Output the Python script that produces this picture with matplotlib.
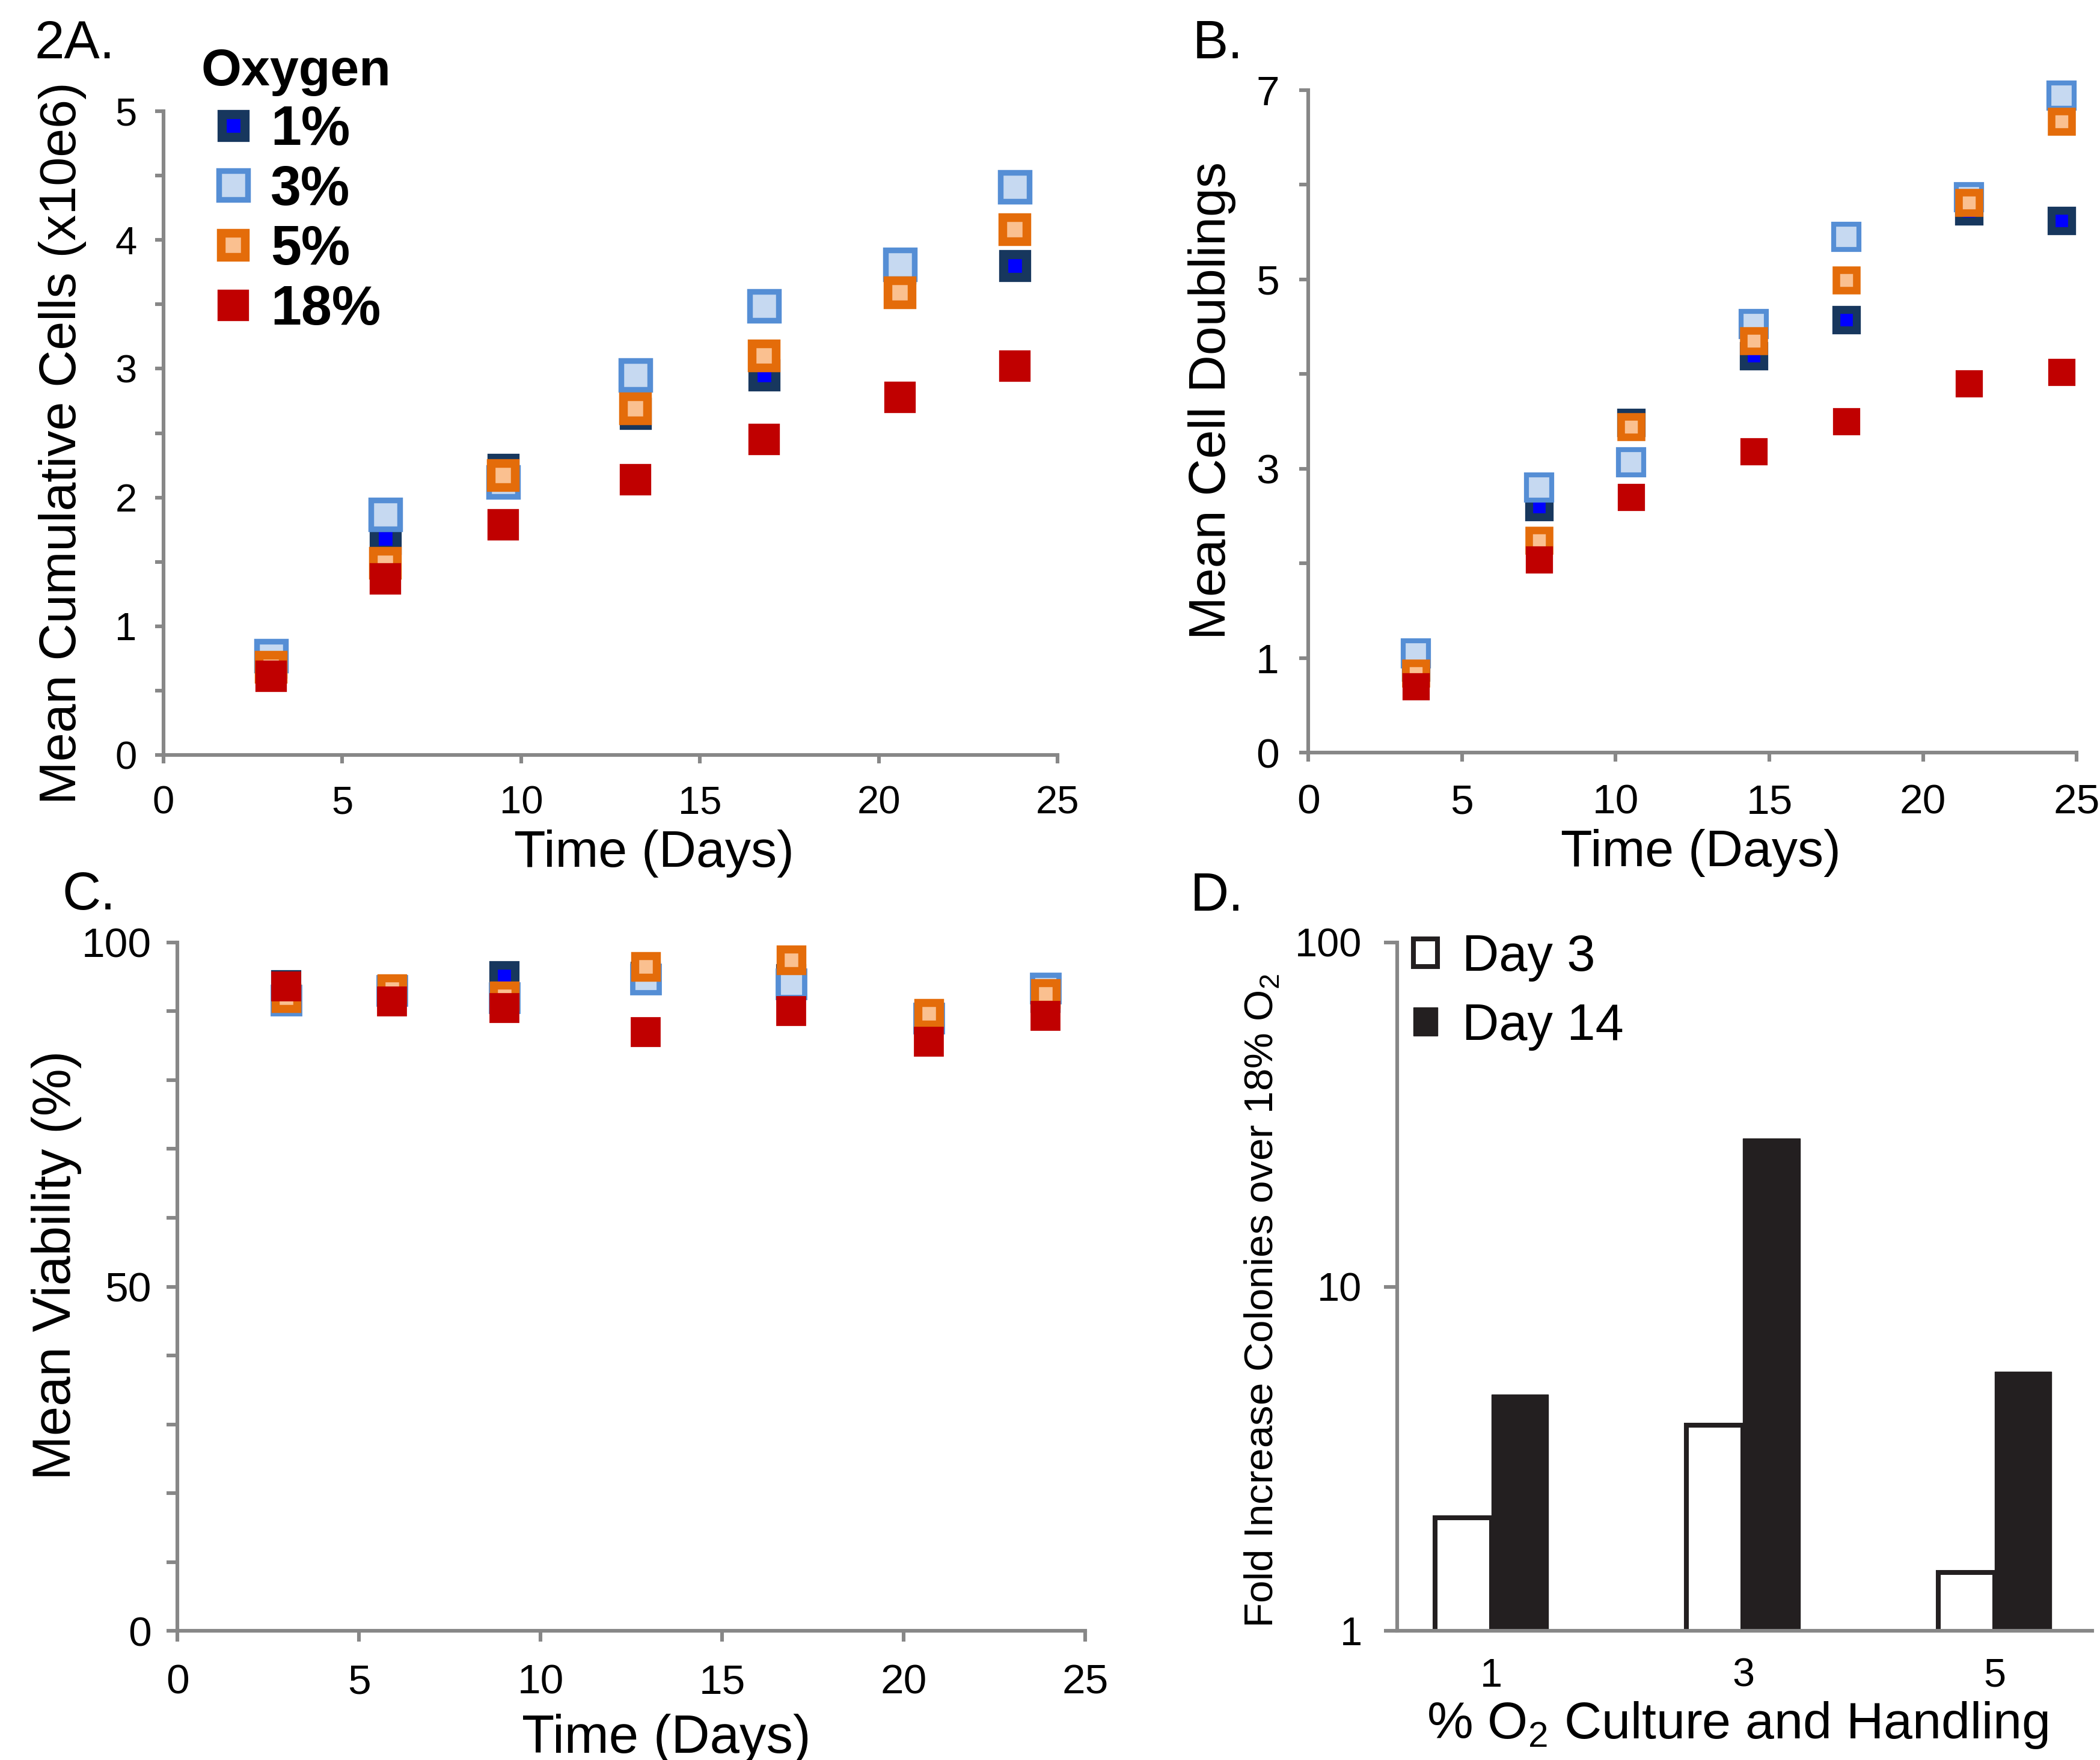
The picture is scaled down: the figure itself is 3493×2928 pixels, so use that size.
import matplotlib
matplotlib.use("Agg")
import matplotlib.pyplot as plt
from matplotlib.ticker import FixedLocator, NullLocator

W, H, DPI = 3493, 2928, 200
NARROW = ['Liberation Sans Narrow', 'Liberation Sans', 'DejaVu Sans']
REG = ['Liberation Sans', 'DejaVu Sans']
GRAY = '#878787'

# --- data ---
oxygen = ['1%', '3%', '5%', '18%']

days_a = [3.0, 6.2, 9.5, 13.2, 16.8, 20.6, 23.8]
cells = {
    '1%': [0.72, 1.68, 2.22, 2.65, 2.95, 3.78, 3.80],
    '3%': [0.77, 1.87, 2.12, 2.95, 3.49, 3.81, 4.41],
    '5%': [0.68, 1.49, 2.17, 2.69, 3.10, 3.59, 4.08],
    '18%': [0.61, 1.37, 1.79, 2.14, 2.45, 2.78, 3.02],
}

days_b = [3.5, 7.5, 10.5, 14.5, 17.5, 21.5, 24.5]
doublings = {
    '1%': [0.90, 2.60, 3.49, 4.19, 4.57, 5.72, 5.62],
    '3%': [1.05, 2.80, 3.07, 4.53, 5.45, 5.87, 6.94],
    '5%': [0.84, 2.24, 3.44, 4.35, 4.99, 5.81, 6.67],
    '18%': [0.70, 2.04, 2.70, 3.18, 3.50, 3.90, 4.02],
}

days_c = [3.0, 5.9, 9.0, 12.9, 16.9, 20.7, 23.9]
viability = {
    '1%': [93.8, 93.0, 95.1, 95.0, 94.7, 89.0, 92.0],
    '3%': [91.6, 93.0, 92.0, 94.7, 94.0, 89.0, 93.4],
    '5%': [92.0, 93.3, 92.2, 96.5, 97.5, 89.7, 92.6],
    '18%': [93.6, 91.4, 90.5, 87.0, 90.0, 85.6, 89.3],
}

o2_levels = ['1', '3', '5']
day3 = [2.13, 3.96, 1.48]
day14 = [4.86, 27.0, 5.65]

# marker styles: edge, fill, size, edge width
styles = {
    '1%': ('#17375E', '#0000FF', 13.9, 5.5),
    '3%': ('#558ED5', '#C6D9F1', 17.1, 3.4),
    '5%': ('#E46C0A', '#FAC090', 14.2, 5.2),
    '18%': ('#C00000', '#C00000', 16.0, 3.0),
}


def fpos(x, y):
    return x / W, 1 - y / H


def style_axes(ax, font, size, tlen, ypad, xpad):
    for s in ['top', 'right']:
        ax.spines[s].set_visible(False)
    for s in ['left', 'bottom']:
        ax.spines[s].set_color(GRAY)
        ax.spines[s].set_linewidth(2.2)
    ax.tick_params(which='both', color=GRAY, width=2.2, length=tlen,
                   direction='out', labelsize=size, labelfontfamily=font)
    ax.tick_params(axis='y', which='both', pad=ypad)
    ax.tick_params(axis='x', which='both', pad=xpad)


def scatter(ax, days, data, scale):
    for key in oxygen:
        ec, fc, ms, mew = styles[key]
        ax.plot(days, data[key], linestyle='none', marker='s',
                ms=ms * scale, mew=mew * scale, mec=ec, mfc=fc,
                label=key, clip_on=False)


fig = plt.figure(figsize=(W / DPI, H / DPI), dpi=DPI)

# ---------- A ----------
ax_a = fig.add_axes([0.0779, 0.5710, 0.4257, 0.3658])
scatter(ax_a, days_a, cells, 1.0)
ax_a.set_xlim(0, 25)
ax_a.set_ylim(0, 5)
ax_a.set_xticks([0, 5, 10, 15, 20, 25])
ax_a.set_yticks([0, 1, 2, 3, 4, 5])
ax_a.yaxis.set_minor_locator(FixedLocator([0.5, 1.5, 2.5, 3.5, 4.5]))
style_axes(ax_a, NARROW, 23.5, 5, 11, 13)
leg = ax_a.legend(title='Oxygen', loc='upper left',
                  bbox_to_anchor=fpos(334, 80), bbox_transform=fig.transFigure,
                  frameon=False, borderpad=0, borderaxespad=0,
                  handlelength=1.18, handletextpad=0.09, labelspacing=0.15,
                  alignment='left', numpoints=1,
                  prop={'family': NARROW, 'weight': 'bold', 'size': 33},
                  title_fontproperties={'family': NARROW, 'weight': 'bold', 'size': 31})

fig.text(*fpos(104, 737), 'Mean Cumulative Cells (x10e6)', rotation=90,
         ha='center', va='center', fontsize=31, family=NARROW)
fig.text(*fpos(1088, 1420), 'Time (Days)', ha='center', va='center',
         fontsize=31, family=NARROW)
fig.text(*fpos(57, 74), '2A.', ha='left', va='center', fontsize=32, family=REG)

# ---------- B ----------
ax_b = fig.add_axes([0.6230, 0.5724, 0.3659, 0.3764])
scatter(ax_b, days_b, doublings, 0.87)
ax_b.set_xlim(0, 25)
ax_b.set_ylim(0, 7)
ax_b.set_xticks([0, 5, 10, 15, 20, 25])
ax_b.set_yticks([0, 1, 2, 3, 4, 5, 6, 7])
ax_b.set_yticklabels(['0', '1', '', '3', '', '5', '', '7'])
style_axes(ax_b, REG, 25, 5.4, 12, 13)
fig.text(*fpos(2016, 666), 'Mean Cell Doublings', rotation=90,
         ha='center', va='center', fontsize=31, family=REG)
fig.text(*fpos(2829, 1419), 'Time (Days)', ha='center', va='center',
         fontsize=31, family=REG)
fig.text(*fpos(1984, 74), 'B.', ha='left', va='center', fontsize=32, family=REG)

# ---------- C ----------
ax_c = fig.add_axes([0.0845, 0.0734, 0.4323, 0.3911])
scatter(ax_c, days_c, viability, 0.93)
ax_c.set_xlim(0, 25)
ax_c.set_ylim(0, 100)
ax_c.set_xticks([0, 5, 10, 15, 20, 25])
ax_c.set_yticks([0, 50, 100])
ax_c.yaxis.set_minor_locator(FixedLocator([10, 20, 30, 40, 60, 70, 80, 90]))
style_axes(ax_c, NARROW, 25, 6.5, 9, 13)
fig.text(*fpos(94, 2105), 'Mean Viability (%)', rotation=90,
         ha='center', va='center', fontsize=32, family=NARROW)
fig.text(*fpos(1108, 2893), 'Time (Days)', ha='center', va='center',
         fontsize=32, family=NARROW)
fig.text(*fpos(104, 1490), 'C.', ha='left', va='center', fontsize=32, family=REG)

# ---------- D ----------
ax_d = fig.add_axes([0.6653, 0.0734, 0.3310, 0.3911])
pos = list(range(len(o2_levels)))
bw = 0.225
ax_d.bar([p - bw / 2 for p in pos], day3, bw, color='white',
         edgecolor='#231F20', linewidth=2.9, label='Day 3')
ax_d.bar([p + bw / 2 for p in pos], day14, bw, color='#231F20',
         edgecolor='#231F20', linewidth=0.5, label='Day 14')
ax_d.set_yscale('log')
ax_d.set_ylim(1, 100)
ax_d.set_xlim(-0.375, 2.387)
ax_d.set_yticks([1, 10, 100])
ax_d.set_yticklabels(['1', '10', '100'])
ax_d.yaxis.set_minor_locator(NullLocator())
ax_d.set_xticks(pos)
ax_d.set_xticklabels(o2_levels)
style_axes(ax_d, REG, 24, 8, 13, 16)
ax_d.tick_params(axis='x', length=0)
ax_d.legend(loc='upper left', bbox_to_anchor=fpos(2351, 1553),
            bbox_transform=fig.transFigure, frameon=False, borderpad=0,
            borderaxespad=0, handlelength=0.47, handleheight=0.47,
            handletextpad=0.49, labelspacing=0.41,
            prop={'family': REG, 'size': 30.5})
fig.text(*fpos(2100, 2164), 'Fold Increase Colonies over 18% O$_\\mathregular{2}$',
         rotation=90, ha='center', va='center', fontsize=24.2, family=REG)
fig.text(*fpos(2890, 2870), '% O$_\\mathregular{2}$ Culture and Handling',
         ha='center', va='center', fontsize=31, family=REG)
fig.text(*fpos(1980, 1492), 'D.', ha='left', va='center', fontsize=32, family=REG)

fig.savefig('out.png', dpi=DPI)
